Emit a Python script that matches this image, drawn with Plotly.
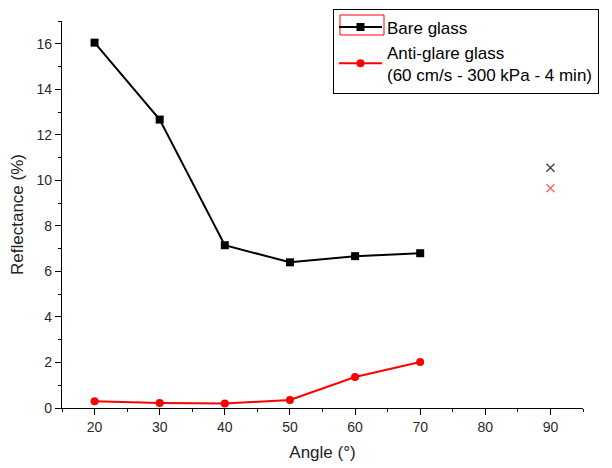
import plotly.graph_objects as go

angles = [20, 30, 40, 50, 60, 70]
bare_glass = [16.05, 12.67, 7.15, 6.4, 6.67, 6.8]
anti_glare = [0.3, 0.22, 0.2, 0.35, 1.36, 2.02]
extra_x = [90]
extra_bare = [10.55]
extra_anti = [9.65]

fig = go.Figure()
fig.add_trace(go.Scatter(x=angles, y=bare_glass, mode="lines+markers", name="Bare glass",
                         line=dict(color="black", width=2),
                         marker=dict(symbol="square", size=8, color="black")))
fig.add_trace(go.Scatter(x=angles, y=anti_glare, mode="lines+markers",
                         name="Anti-glare glass<br>(60 cm/s - 300 kPa - 4 min)",
                         line=dict(color="#ff0000", width=2),
                         marker=dict(symbol="circle", size=8, color="#ff0000")))
fig.add_trace(go.Scatter(x=extra_x, y=extra_bare, mode="markers", showlegend=False,
                         marker=dict(symbol="x-thin", size=8, line=dict(color="#444444", width=1.5))))
fig.add_trace(go.Scatter(x=extra_x, y=extra_anti, mode="markers", showlegend=False,
                         marker=dict(symbol="x-thin", size=8, line=dict(color="#ff6666", width=1.5))))

axis_common = dict(showline=True, linecolor="black", linewidth=1.2, ticks="outside",
                   ticklen=6, tickcolor="black", showgrid=False, zeroline=False, automargin=False,
                   tickfont=dict(family="Liberation Sans, Arial", size=14, color="#2a2a2a"),
                   title_font=dict(family="Liberation Sans, Arial", size=17, color="#222222"))

fig.update_xaxes(range=[15, 95], dtick=10, tick0=0,
                 minor=dict(dtick=5, ticks="outside", ticklen=3, tickcolor="black"),
                 title_text="Angle (°)", title_standoff=12, **axis_common)
fig.update_yaxes(range=[0, 17], dtick=2, tick0=0,
                 minor=dict(dtick=1, ticks="outside", ticklen=3, tickcolor="black"),
                 title_text="Reflectance (%)", title_standoff=10, **axis_common)

# the page body adds an 8 px offset; figure coordinates below are viewport minus 8
W, H = 604, 460
L, R, T, B = 54, 29, 13, 60
pw, ph = W - L - R, H - T - B
def px(x):
    return (x - 8 - L) / pw
def py(y):
    return (H - B - (y - 8)) / ph

fig.add_shape(type="rect", xref="paper", yref="paper",
              x0=px(340), x1=px(384), y0=py(35), y1=py(15),
              line=dict(color="#ff0000", width=1), fillcolor="rgba(0,0,0,0)", layer="above")

fig.update_layout(
    width=W, height=H,
    margin=dict(l=L, r=R, t=T, b=B, autoexpand=False),
    plot_bgcolor="white", paper_bgcolor="white",
    font=dict(family="Liberation Sans, Arial", size=15, color="black"),
    legend=dict(x=px(333), y=py(8.5), xanchor="left", yanchor="top",
                bordercolor="black", borderwidth=1, bgcolor="rgba(0,0,0,0)",
                font=dict(size=17, color="black"), tracegroupgap=0, itemwidth=43),
)
fig.write_html("out.html")
